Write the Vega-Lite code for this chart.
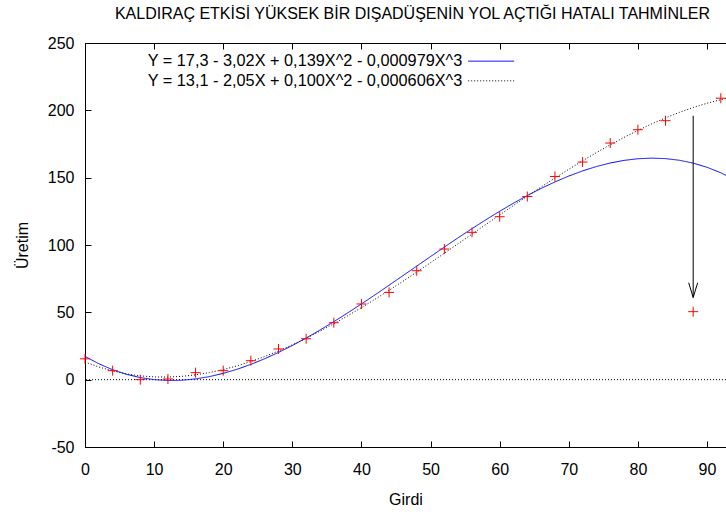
{
  "$schema": "https://vega.github.io/schema/vega-lite/v6.json",
  "width": 641,
  "height": 404,
  "autosize": {"type": "none"},
  "padding": {"left": 85, "top": 43, "right": 0, "bottom": 65},
  "background": "white",
  "title": {
    "text": "KALDIRAÇ ETKİSİ YÜKSEK BİR DIŞADÜŞENİN YOL AÇTIĞI HATALI TAHMİNLER",
    "font": "Liberation Sans",
    "fontSize": 16,
    "fontWeight": "normal",
    "color": "black",
    "anchor": "middle",
    "offset": 13,
    "dx": 7
  },
  "config": {
    "view": {"stroke": null},
    "font": "Liberation Sans",
    "axis": {
      "domainColor": "black",
      "domainWidth": 1,
      "tickColor": "black",
      "tickWidth": 1,
      "tickSize": -6,
      "grid": false,
      "labelFont": "Liberation Sans",
      "labelFontSize": 16,
      "labelFontWeight": 400,
      "labelColor": "black",
      "labelFlush": false,
      "labelOverlap": false,
      "titleFont": "Liberation Sans",
      "titleFontSize": 16,
      "titleFontWeight": 400,
      "titleColor": "black"
    },
    "legend": {
      "labelFont": "Liberation Sans",
      "labelFontSize": 16.3,
      "labelColor": "black",
      "labelLimit": 1000,
      "labelAlign": "right",
      "labelOffset": -37,
      "symbolType": "M-4,0H4",
      "symbolSize": 132,
      "symbolStrokeWidth": 1,
      "rowPadding": 2.7
    }
  },
  "resolve": {"axis": {"x": "independent"}},
  "datasets": {
    "zero": [{"level": 0}],
    "pts": [
      {"x": 0, "y": 15.5}, {"x": 4, "y": 6.7}, {"x": 8, "y": 0}, {"x": 12, "y": 0.5},
      {"x": 16, "y": 5.2}, {"x": 20, "y": 6.7}, {"x": 24, "y": 14.1}, {"x": 28, "y": 22.8},
      {"x": 32, "y": 30.4}, {"x": 36, "y": 42.3}, {"x": 40, "y": 56.2}, {"x": 44, "y": 64.8},
      {"x": 48, "y": 80.9}, {"x": 52, "y": 97}, {"x": 56, "y": 109.4}, {"x": 60, "y": 121},
      {"x": 64, "y": 136}, {"x": 68, "y": 150.9}, {"x": 72, "y": 161.6}, {"x": 76, "y": 175.7},
      {"x": 80, "y": 185.6}, {"x": 84, "y": 192.3}, {"x": 88, "y": 50.5}, {"x": 92, "y": 209}
    ],
    "curves": [
      {"x": 0, "y": 17.3, "s": "a"}, {"x": 2, "y": 11.81, "s": "a"}, {"x": 4, "y": 7.38, "s": "a"},
      {"x": 6, "y": 3.97, "s": "a"}, {"x": 8, "y": 1.54, "s": "a"}, {"x": 10, "y": 0.02, "s": "a"},
      {"x": 12, "y": -0.62, "s": "a"}, {"x": 14, "y": -0.42, "s": "a"}, {"x": 16, "y": 0.55, "s": "a"},
      {"x": 18, "y": 2.27, "s": "a"}, {"x": 20, "y": 4.67, "s": "a"}, {"x": 22, "y": 7.71, "s": "a"},
      {"x": 24, "y": 11.35, "s": "a"}, {"x": 26, "y": 15.54, "s": "a"}, {"x": 28, "y": 20.23, "s": "a"},
      {"x": 30, "y": 25.37, "s": "a"}, {"x": 32, "y": 30.92, "s": "a"}, {"x": 34, "y": 36.83, "s": "a"},
      {"x": 36, "y": 43.05, "s": "a"}, {"x": 38, "y": 49.54, "s": "a"}, {"x": 40, "y": 56.24, "s": "a"},
      {"x": 42, "y": 63.12, "s": "a"}, {"x": 44, "y": 70.13, "s": "a"}, {"x": 46, "y": 77.21, "s": "a"},
      {"x": 48, "y": 84.33, "s": "a"}, {"x": 50, "y": 91.43, "s": "a"}, {"x": 52, "y": 98.46, "s": "a"},
      {"x": 54, "y": 105.39, "s": "a"}, {"x": 56, "y": 112.16, "s": "a"}, {"x": 58, "y": 118.72, "s": "a"},
      {"x": 60, "y": 125.04, "s": "a"}, {"x": 62, "y": 131.05, "s": "a"}, {"x": 64, "y": 136.73, "s": "a"},
      {"x": 66, "y": 142.01, "s": "a"}, {"x": 68, "y": 146.85, "s": "a"}, {"x": 70, "y": 151.2, "s": "a"},
      {"x": 72, "y": 155.03, "s": "a"}, {"x": 74, "y": 158.27, "s": "a"}, {"x": 76, "y": 160.89, "s": "a"},
      {"x": 78, "y": 162.83, "s": "a"}, {"x": 80, "y": 164.05, "s": "a"}, {"x": 82, "y": 164.51, "s": "a"},
      {"x": 84, "y": 164.15, "s": "a"}, {"x": 86, "y": 162.93, "s": "a"}, {"x": 88, "y": 160.8, "s": "a"},
      {"x": 90, "y": 157.71, "s": "a"}, {"x": 92, "y": 153.62, "s": "a"}, {"x": 94, "y": 148.48, "s": "a"},
      {"x": 0, "y": 13.1, "s": "b"}, {"x": 2, "y": 9.4, "s": "b"}, {"x": 4, "y": 6.47, "s": "b"},
      {"x": 6, "y": 4.29, "s": "b"}, {"x": 8, "y": 2.83, "s": "b"}, {"x": 10, "y": 2.05, "s": "b"},
      {"x": 12, "y": 1.94, "s": "b"}, {"x": 14, "y": 2.45, "s": "b"}, {"x": 16, "y": 3.57, "s": "b"},
      {"x": 18, "y": 5.26, "s": "b"}, {"x": 20, "y": 7.5, "s": "b"}, {"x": 22, "y": 10.25, "s": "b"},
      {"x": 24, "y": 13.49, "s": "b"}, {"x": 26, "y": 17.19, "s": "b"}, {"x": 28, "y": 21.32, "s": "b"},
      {"x": 30, "y": 25.85, "s": "b"}, {"x": 32, "y": 30.75, "s": "b"}, {"x": 34, "y": 36.0, "s": "b"},
      {"x": 36, "y": 41.55, "s": "b"}, {"x": 38, "y": 47.4, "s": "b"}, {"x": 40, "y": 53.5, "s": "b"},
      {"x": 42, "y": 59.83, "s": "b"}, {"x": 44, "y": 66.36, "s": "b"}, {"x": 46, "y": 73.06, "s": "b"},
      {"x": 48, "y": 79.9, "s": "b"}, {"x": 50, "y": 86.85, "s": "b"}, {"x": 52, "y": 93.89, "s": "b"},
      {"x": 54, "y": 100.98, "s": "b"}, {"x": 56, "y": 108.1, "s": "b"}, {"x": 58, "y": 115.22, "s": "b"},
      {"x": 60, "y": 122.3, "s": "b"}, {"x": 62, "y": 129.33, "s": "b"}, {"x": 64, "y": 136.26, "s": "b"},
      {"x": 66, "y": 143.08, "s": "b"}, {"x": 68, "y": 149.75, "s": "b"}, {"x": 70, "y": 156.25, "s": "b"},
      {"x": 72, "y": 162.54, "s": "b"}, {"x": 74, "y": 168.6, "s": "b"}, {"x": 76, "y": 174.4, "s": "b"},
      {"x": 78, "y": 179.91, "s": "b"}, {"x": 80, "y": 185.1, "s": "b"}, {"x": 82, "y": 189.94, "s": "b"},
      {"x": 84, "y": 194.41, "s": "b"}, {"x": 86, "y": 198.46, "s": "b"}, {"x": 88, "y": 202.09, "s": "b"},
      {"x": 90, "y": 205.25, "s": "b"}, {"x": 92, "y": 207.92, "s": "b"}, {"x": 94, "y": 210.07, "s": "b"}
    ],
    "arrow": [{"x": 88, "y": 196, "y2": 61}],
    "head": [{"x": 87.35, "y": 72}, {"x": 88, "y": 61}, {"x": 88.65, "y": 72}]
  },
  "encoding": {
    "y": {
      "field": "y",
      "type": "quantitative",
      "scale": {"domain": [-50, 250], "nice": false, "zero": false},
      "axis": {"values": [-50, 0, 50, 100, 150, 200, 250], "labelExpr": "'' + datum.value", "title": "Üretim", "labelPadding": 17, "titlePadding": 17}
    }
  },
  "layer": [
    {
      "data": {"name": "zero"},
      "mark": {"type": "rule", "color": "black", "strokeWidth": 1, "strokeDash": [1, 2]},
      "encoding": {"y": {"field": "level", "type": "quantitative"}}
    },
    {
      "data": {"name": "curves"},
      "mark": {"type": "line", "strokeWidth": 1, "clip": true},
      "encoding": {
        "x": {
          "field": "x",
          "type": "quantitative",
          "scale": {"domain": [0, 92.75], "nice": false, "zero": false},
          "axis": {"orient": "bottom", "values": [0, 10, 20, 30, 40, 50, 60, 70, 80, 90], "title": "Girdi", "labelPadding": 20, "titlePadding": 14}
        },
        "color": {
          "field": "s",
          "type": "nominal",
          "scale": {"domain": ["a", "b"], "range": ["#0000ff", "#000000"]},
          "legend": {
            "title": null,
            "orient": "none",
            "legendX": 398,
            "legendY": 10,
            "labelExpr": "datum.label == 'a' ? 'Y = 17,3 - 3,02X + 0,139X^2 - 0,000979X^3' : 'Y = 13,1 - 2,05X + 0,100X^2 - 0,000606X^3'"
          }
        },
        "strokeDash": {
          "field": "s",
          "type": "nominal",
          "scale": {"domain": ["a", "b"], "range": [[1, 0], [1, 2]]},
          "legend": {
            "title": null,
            "orient": "none",
            "legendX": 398,
            "legendY": 10,
            "labelExpr": "datum.label == 'a' ? 'Y = 17,3 - 3,02X + 0,139X^2 - 0,000979X^3' : 'Y = 13,1 - 2,05X + 0,100X^2 - 0,000606X^3'"
          }
        }
      }
    },
    {
      "data": {"name": "pts"},
      "mark": {"type": "point", "shape": "M-1,0H1M0,-1V1", "filled": false, "color": "#ff0000", "strokeWidth": 1, "size": 100, "opacity": 1},
      "encoding": {"x": {"field": "x", "type": "quantitative", "axis": null}}
    },
    {
      "data": {"name": "arrow"},
      "mark": {"type": "rule", "color": "black", "strokeWidth": 1},
      "encoding": {"x": {"field": "x", "type": "quantitative", "axis": null}, "y2": {"field": "y2"}}
    },
    {
      "data": {"name": "head"},
      "mark": {"type": "line", "color": "black", "strokeWidth": 1},
      "encoding": {
        "x": {
          "field": "x",
          "type": "quantitative",
          "axis": {"orient": "top", "values": [0, 10, 20, 30, 40, 50, 60, 70, 80, 90], "labels": false, "title": null}
        }
      }
    }
  ]
}
